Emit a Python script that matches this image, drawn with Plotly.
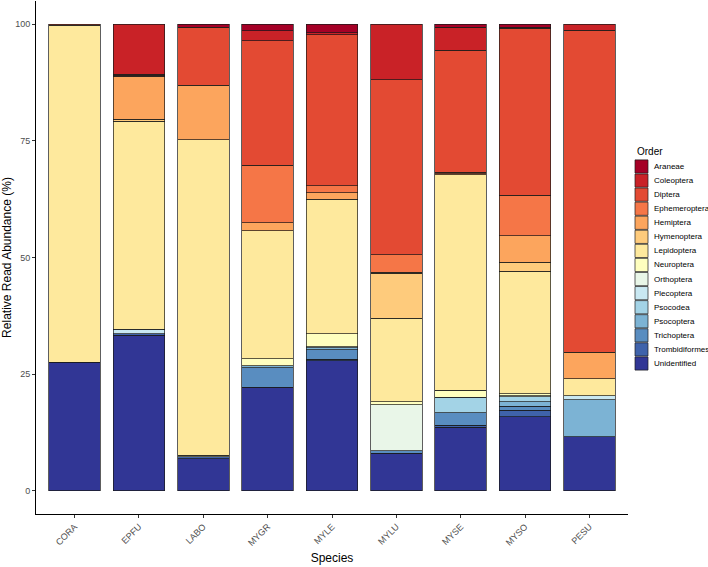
import plotly.graph_objects as go

species = ["CORA", "EPFU", "LABO", "MYGR", "MYLE", "MYLU", "MYSE", "MYSO", "PESU"]

# legend order (top to bottom); bars are stacked in the reverse order
orders = ["Araneae", "Coleoptera", "Diptera", "Ephemeroptera", "Hemiptera",
          "Hymenoptera", "Lepidoptera", "Neuroptera", "Orthoptera", "Plecoptera",
          "Psocodea", "Psocoptera", "Trichoptera", "Trombidiformes", "Unidentified"]

colors = ["#a50026", "#c92227", "#e34a33", "#f57647", "#fca55d",
          "#fecb7c", "#fee99d", "#ffffbf", "#e9f6e8", "#c9e8f2",
          "#a3d3e6", "#7cb3d4", "#598dc0", "#3f63ab", "#313695"]

# relative read abundance (%) per species
araneae        = [0, 0, 0.6, 1.4, 1.8, 0, 0.6, 0.6, 0]
coleoptera     = [0, 10.7, 0, 2.1, 0.4, 11.9, 5.0, 0.2, 1.3]
diptera        = [0.2, 0.2, 12.5, 26.7, 32.4, 37.5, 26.1, 35.9, 69.0]
ephemeroptera  = [0, 0.2, 0, 12.4, 1.5, 3.8, 0.3, 8.6, 0]
hemiptera      = [0, 9.3, 11.6, 1.7, 1.4, 0.2, 0.3, 5.7, 5.7]
hymenoptera    = [0, 0.4, 0, 0, 0, 9.6, 0, 1.9, 0]
lepidoptera    = [72.3, 44.6, 67.7, 27.4, 28.9, 17.9, 46.2, 26.3, 3.6]
neuroptera     = [0, 0, 0.3, 1.5, 2.7, 0.7, 1.5, 0.4, 0]
orthoptera     = [0, 0, 0, 0, 0, 9.8, 0, 0.3, 0]
plecoptera     = [0, 1.0, 0, 0, 0, 0, 0, 0, 0.9]
psocodea       = [0, 0, 0, 0, 0.3, 0, 3.3, 1.0, 0]
psocoptera     = [0, 0, 0, 0.4, 0.4, 0, 0, 1.0, 7.9]
trichoptera    = [0, 0, 0, 4.2, 2.0, 0.6, 2.7, 0.8, 0]
trombidiformes = [0, 0.3, 0.5, 0, 0.3, 0, 0.4, 1.4, 0]
unidentified   = [27.5, 33.3, 6.8, 22.2, 27.9, 8.0, 13.6, 15.9, 11.6]

values = [araneae, coleoptera, diptera, ephemeroptera, hemiptera, hymenoptera,
          lepidoptera, neuroptera, orthoptera, plecoptera, psocodea, psocoptera,
          trichoptera, trombidiformes, unidentified]

W, H = 708, 567
ML, MR, MT, MB = 36, 80, 1, 53
FONT = "Liberation Sans, Arial, sans-serif"

fig = go.Figure()
for name, col, vals in reversed(list(zip(orders, colors, values))):
    fig.add_trace(go.Bar(
        x=species,
        y=[v if v > 0 else None for v in vals],
        name=name,
        width=0.8,
        marker=dict(color=col, line=dict(color="#1a1a1a", width=0.7)),
        showlegend=False,
    ))

# pixel -> paper helpers for the hand drawn legend
pw = W - ML - MR
ph = H - MT - MB
def px_x(p):
    return (p - ML) / pw
def px_y(p):
    return (H - MB - p) / ph

shapes = []
annotations = [dict(
    text="Order", x=px_x(635), y=px_y(151), xref="paper", yref="paper",
    xanchor="left", yanchor="middle", showarrow=False,
    font=dict(size=10, color="black", family=FONT),
)]
for i, (name, col) in enumerate(zip(orders, colors)):
    cy = 166.5 + i * 14.07
    shapes.append(dict(
        type="rect", xref="paper", yref="paper",
        x0=px_x(635), x1=px_x(648), y0=px_y(cy - 6.6), y1=px_y(cy + 6.6),
        fillcolor=col, line=dict(color="#1a1a1a", width=0.7),
    ))
    annotations.append(dict(
        text=name, x=px_x(652), y=px_y(cy), xref="paper", yref="paper",
        xanchor="left", yanchor="middle", showarrow=False,
        font=dict(size=8, color="black", family=FONT),
    ))

fig.update_layout(
    width=W, height=H,
    margin=dict(l=ML, r=MR, t=MT, b=MB),
    barmode="stack",
    plot_bgcolor="white", paper_bgcolor="white",
    font=dict(family=FONT, color="black"),
    shapes=shapes, annotations=annotations,
    showlegend=False,
)
fig.update_xaxes(
    range=[-0.6, 8.6], showline=True, linecolor="black", linewidth=1,
    ticks="outside", ticklen=3, tickcolor="#333333", tickangle=-45,
    tickfont=dict(size=9, color="#4d4d4d"), showgrid=False, automargin=False,
    title=dict(text="Species", font=dict(size=12), standoff=6),
)
fig.update_yaxes(
    range=[-5, 105], tickvals=[0, 25, 50, 75, 100], showline=True,
    linecolor="black", linewidth=1, ticks="outside", ticklen=3,
    tickcolor="#333333", tickfont=dict(size=9, color="#4d4d4d"),
    showgrid=False, zeroline=False, automargin=False,
    title=dict(text="Relative Read Abundance (%)", font=dict(size=12), standoff=2),
)

# drop the browser's default body margin so the figure sits at the page origin
fig.write_html(
    "out.html",
    config={"displayModeBar": False},
    post_script="document.body.style.margin='0';",
)
